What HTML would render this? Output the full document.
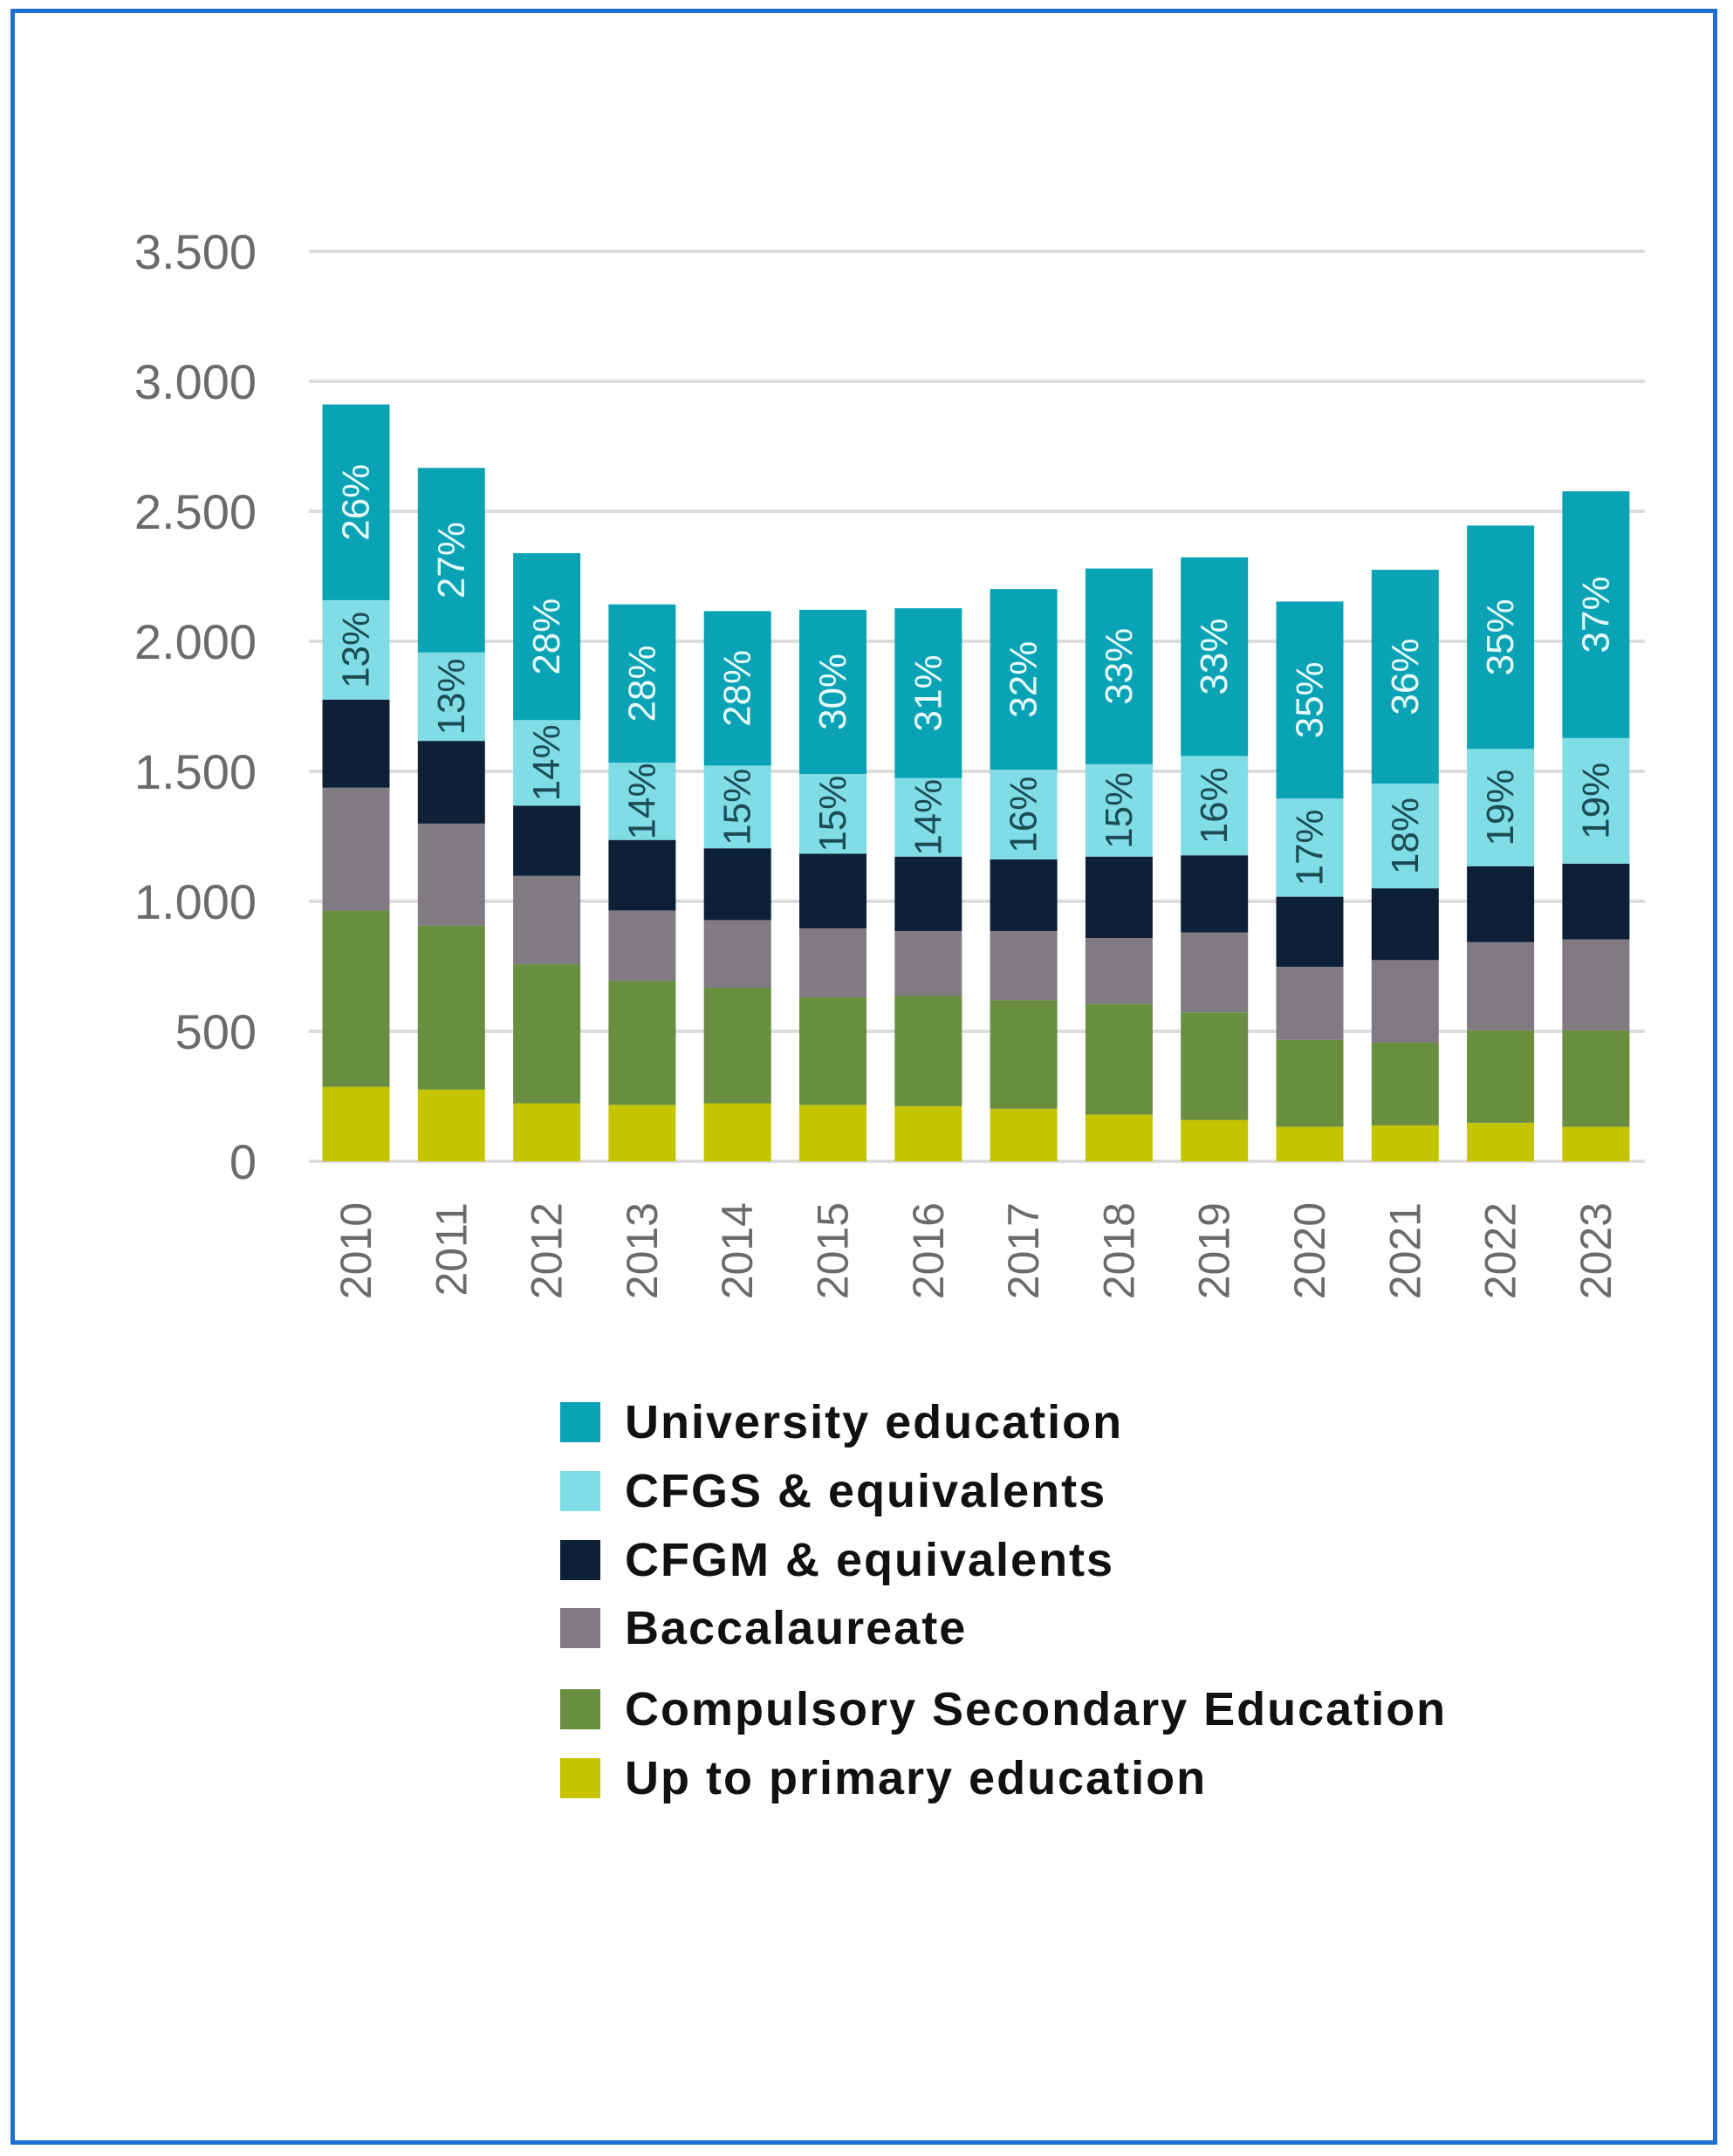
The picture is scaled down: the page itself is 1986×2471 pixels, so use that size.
<!DOCTYPE html>
<html><head><meta charset="utf-8">
<style>
html,body{margin:0;padding:0;background:#fff;}
body{width:1986px;height:2471px;position:relative;overflow:hidden;font-family:"Liberation Sans",sans-serif;}
#frame{position:absolute;left:12px;top:10px;width:1956px;height:2448px;border:5px solid #1f6fd1;box-sizing:border-box;}
.leg{position:absolute;left:642px;height:48px;display:flex;align-items:center;}
.sw{width:46px;height:46px;margin-right:28px;}
.lt{font-weight:bold;font-size:54px;letter-spacing:2px;color:#111;white-space:nowrap;}
</style></head>
<body>
<div id="frame"></div>
<svg id="chart" width="1986" height="1560" style="position:absolute;left:0;top:0"></svg>
<div>
<div class="leg" style="top:1606px"><div class="sw" style="background:#0aa3b5"></div><span class="lt">University education</span></div>
<div class="leg" style="top:1685px"><div class="sw" style="background:#80dde6"></div><span class="lt">CFGS &amp; equivalents</span></div>
<div class="leg" style="top:1764px"><div class="sw" style="background:#0d2038"></div><span class="lt">CFGM &amp; equivalents</span></div>
<div class="leg" style="top:1842px"><div class="sw" style="background:#807b82"></div><span class="lt">Baccalaureate</span></div>
<div class="leg" style="top:1935px"><div class="sw" style="background:#6a8e3f"></div><span class="lt">Compulsory Secondary Education</span></div>
<div class="leg" style="top:2014px"><div class="sw" style="background:#c4c400"></div><span class="lt">Up to primary education</span></div>
</div>
<script>
const years=["2010","2011","2012","2013","2014","2015","2016","2017","2018","2019","2020","2021","2022","2023"];
const primary=[286,276,223,217,223,217,212,202,180,159,133,138,148,133];
const eso=[679,631,535,478,445,414,424,418,425,414,334,318,356,371];
const bacc=[472,392,340,270,260,265,250,266,254,307,281,318,339,350];
const cfgm=[339,318,270,271,276,287,286,275,313,297,270,276,292,291];
const cfgs=[382,340,329,297,318,307,302,345,355,382,377,403,451,483];
const univ=[753,710,642,609,594,631,653,695,753,764,758,822,859,949];
const cfgsPct=["13%","13%","14%","14%","15%","15%","14%","16%","15%","16%","17%","18%","19%","19%"];
const univPct=["26%","27%","28%","28%","28%","30%","31%","32%","33%","33%","35%","36%","35%","37%"];
const yTicks=[0,500,1000,1500,2000,2500,3000,3500];
const yTickLabels=["0","500","1.000","1.500","2.000","2.500","3.000","3.500"];

const NS="http://www.w3.org/2000/svg";
const svg=document.getElementById("chart");
const y0=1331,pxPer=1043/3500,x0=408,step=109.3,bw=77;
function yScale(v){return y0-v*pxPer;}
function xScale(i){return x0+i*step;}
function mk(t,a){const e=document.createElementNS(NS,t);for(const k in a)e.setAttribute(k,a[k]);svg.appendChild(e);return e;}

yTicks.forEach((t,i)=>{
  const g=mk("line",{x1:354,x2:1885,y1:yScale(t),y2:yScale(t),stroke:"#dcdcdc","stroke-width":4});
  
  
  const tx=mk("text",{x:294,y:yScale(t)+20,"text-anchor":"end","font-size":56,fill:"#6b6b6b","font-family":"Liberation Sans, sans-serif"});
  tx.textContent=yTickLabels[i];
  
  
});

const series=[[primary,"#c4c400","primary"],[eso,"#6a8e3f","eso"],[bacc,"#807b82","baccalaureate"],[cfgm,"#0d2038","cfgm"],[cfgs,"#80dde6","cfgs"],[univ,"#0aa3b5","university"]];
years.forEach((yr,i)=>{
  let cum=0;const cx=xScale(i);
  series.forEach(([arr,col,nm])=>{
    const v=arr[i];
    const r=mk("rect",{x:cx-bw/2,y:yScale(cum+v),width:bw,height:v*pxPer,fill:col});
    
    
    if(nm==="cfgs"||nm==="university"){
      const cy=yScale(cum+v/2);
      const t=mk("text",{x:cx,y:cy,transform:`rotate(-90 ${cx} ${cy})`,"text-anchor":"middle","dominant-baseline":"central","font-size":44,fill:nm==="cfgs"?"#1b4c56":"#e8fbfd","font-family":"Liberation Sans, sans-serif"});
      t.textContent=nm==="cfgs"?cfgsPct[i]:univPct[i];
      
      
    }
    cum+=v;
  });
  const ly=1378;
  const xl=mk("text",{x:cx,y:ly,transform:`rotate(-90 ${cx} ${ly})`,"text-anchor":"end","dominant-baseline":"central","font-size":50,fill:"#6b6b6b","font-family":"Liberation Sans, sans-serif"});
  xl.textContent=yr;
  
  
});
</script>
</body></html>
